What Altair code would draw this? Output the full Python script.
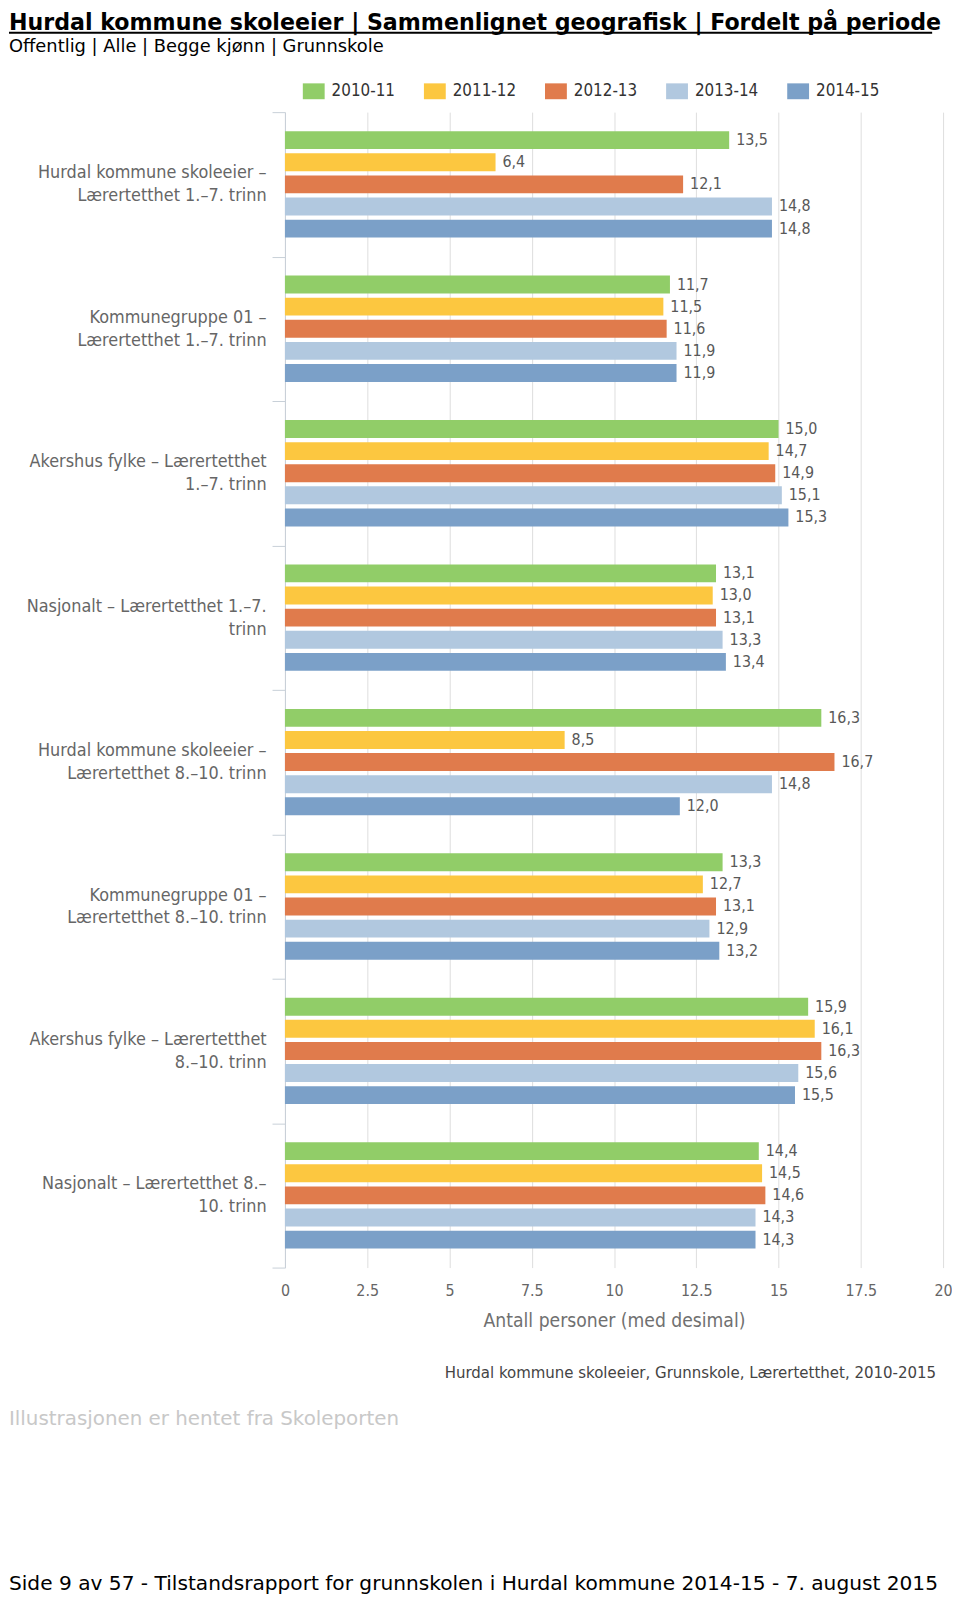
import altair as alt
import pandas as pd

# ---- data -------------------------------------------------------------
categories = [
    "Hurdal kommune skoleeier –\nLærertetthet 1.–7. trinn",
    "Kommunegruppe 01 –\nLærertetthet 1.–7. trinn",
    "Akershus fylke – Lærertetthet\n1.–7. trinn",
    "Nasjonalt – Lærertetthet 1.–7.\ntrinn",
    "Hurdal kommune skoleeier –\nLærertetthet 8.–10. trinn",
    "Kommunegruppe 01 –\nLærertetthet 8.–10. trinn",
    "Akershus fylke – Lærertetthet\n8.–10. trinn",
    "Nasjonalt – Lærertetthet 8.–\n10. trinn",
]
series = ["2010-11", "2011-12", "2012-13", "2013-14", "2014-15"]
colors = ["#91cd68", "#fcc740", "#e07b4c", "#b1c8df", "#7ba0c8"]

v_2010_11 = [13.5, 11.7, 15.0, 13.1, 16.3, 13.3, 15.9, 14.4]
v_2011_12 = [6.4, 11.5, 14.7, 13.0, 8.5, 12.7, 16.1, 14.5]
v_2012_13 = [12.1, 11.6, 14.9, 13.1, 16.7, 13.1, 16.3, 14.6]
v_2013_14 = [14.8, 11.9, 15.1, 13.3, 14.8, 12.9, 15.6, 14.3]
v_2014_15 = [14.8, 11.9, 15.3, 13.4, 12.0, 13.2, 15.5, 14.3]

x_ticks = [0, 2.5, 5, 7.5, 10, 12.5, 15, 17.5, 20]

title_text = "Hurdal kommune skoleeier | Sammenlignet geografisk | Fordelt på periode"
subtitle_text = "Offentlig | Alle | Begge kjønn | Grunnskole"
x_title = "Antall personer (med desimal)"
credit_text = "Hurdal kommune skoleeier, Grunnskole, Lærertetthet, 2010-2015"
source_text = "Illustrasjonen er hentet fra Skoleporten"
footer_text = "Side 9 av 57 - Tilstandsrapport for grunnskolen i Hurdal kommune 2014-15 - 7. august 2015"

# ---- table ------------------------------------------------------------
all_values = [v_2010_11, v_2011_12, v_2012_13, v_2013_14, v_2014_15]
rows = []
for s, vals in zip(series, all_values):
    for c, v in zip(categories, vals):
        rows.append({"category": c, "series": s, "value": v,
                     "label": f"{v:.1f}".replace(".", ",")})
df = pd.DataFrame(rows)

CHART_FONT = "DejaVu Sans Condensed, DejaVu Sans"
PAGE_FONT = "DejaVu Sans"

W, H = 663, 1164
LEFT_X = -278  # page left (x≈9) relative to plot origin

y_enc = alt.Y(
    "category:N", sort=categories,
    scale=alt.Scale(paddingInner=0, paddingOuter=0),
    axis=alt.Axis(
        title=None, labelExpr="split(datum.label, '\\n')",
        labelFont=CHART_FONT, labelFontSize=18, labelColor="#666666",
        labelLineHeight=23, labelPadding=6, labelLimit=300, labelOffset=-11.5,
        tickBand="extent", tickSize=13, tickColor="#c8d0d8",
        domainColor="#c8d0d8", grid=False,
    ),
)
yoff_enc = alt.YOffset(
    "series:N", sort=series,
    scale=alt.Scale(paddingInner=0.19, paddingOuter=0.86),
)
x_enc = alt.X(
    "value:Q",
    scale=alt.Scale(domain=[0, 20], nice=False, zero=True),
    axis=alt.Axis(
        title=x_title, values=x_ticks, labelExpr="datum.value + ''",
        labelFlush=False,
        labelFont=CHART_FONT, labelFontSize=16, labelColor="#666666",
        labelPadding=23, labelBaseline="middle", ticks=False, tickSize=0,
        domain=False, grid=True, gridColor="#dedede",
        titleFont=CHART_FONT, titleFontSize=19.3, titleFontWeight="normal",
        titleColor="#707070", titleY=53, titleBaseline="middle",
    ),
)

base = alt.Chart(df)

bars = base.mark_bar().encode(
    y=y_enc, yOffset=yoff_enc, x=x_enc,
    color=alt.Color(
        "series:N", sort=series,
        scale=alt.Scale(domain=series, range=colors),
        legend=alt.Legend(
            title=None, orient="none", legendX=18, legendY=-32,
            direction="horizontal",
            symbolType="M-1,-0.727H1V0.727H-1Z", symbolSize=484,
            symbolStrokeWidth=0, symbolOpacity=1,
            labelFont=CHART_FONT, labelFontSize=17, labelColor="#333333",
            labelOffset=7, columnPadding=29,
        ),
    ),
)

values_txt = base.mark_text(
    align="left", baseline="middle", dx=7,
    font=CHART_FONT, fontSize=16, color="#585858",
).encode(y=y_enc, yOffset=yoff_enc, x=x_enc, text="label:N")


def note(text, x, y, size, color, font, align="left", weight="normal", baseline="alphabetic"):
    return alt.Chart(pd.DataFrame({"t": [text]})).mark_text(
        align=align, baseline=baseline, font=font, fontSize=size,
        color=color, fontWeight=weight,
    ).encode(x=alt.value(x), y=alt.value(y), text="t:N")


title_l = note(title_text, LEFT_X, -82.5, 22.3, "#000000", PAGE_FONT, weight="bold")
underline = alt.Chart(pd.DataFrame({"t": [0]})).mark_rule(
    color="#000000", strokeWidth=2
).encode(x=alt.value(LEFT_X), x2=alt.value(652), y=alt.value(-80))
subtitle_l = note(subtitle_text, LEFT_X, -61, 18, "#000000", PAGE_FONT)
credit_l = note(credit_text, 656, 1270, 16.8, "#444444", CHART_FONT,
                align="right", baseline="middle")
source_l = note(source_text, LEFT_X, 1323, 20, "#c8c8c8", PAGE_FONT)
footer_l = note(footer_text, LEFT_X, 1489, 20.3, "#000000", PAGE_FONT)

chart = alt.layer(
    bars, values_txt, title_l, underline, subtitle_l, credit_l, source_l, footer_l
).properties(
    width=W, height=H,
    autosize=alt.AutoSizeParams(type="none"),
    padding={"left": 279, "top": 99, "right": 9, "bottom": 331},
    background="white",
).configure_view(stroke=None)

chart.save("out.html", embed_options={"renderer": "svg", "actions": False})
